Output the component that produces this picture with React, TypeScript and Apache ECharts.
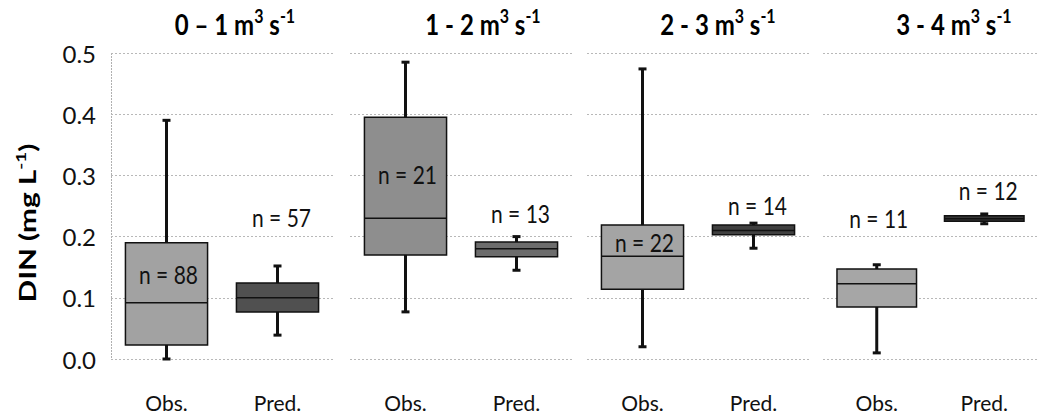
import React, { useEffect, useRef } from 'react';
import * as echarts from 'echarts';

// Flow classes (panel titles) and groups within each panel
const flowClasses = ['0 – 1', '1 - 2', '2 - 3', '3 - 4'];
const groups = ['Obs.', 'Pred.'];
// [low whisker, q1, median, q3, high whisker]  (DIN, mg L-1)
const obsStats = [
  [0.0, 0.023, 0.092, 0.19, 0.39],
  [0.077, 0.17, 0.23, 0.395, 0.485],
  [0.02, 0.114, 0.168, 0.219, 0.474],
  [0.01, 0.085, 0.123, 0.147, 0.154],
];
const predStats = [
  [0.039, 0.077, 0.1, 0.124, 0.152],
  [0.145, 0.167, 0.18, 0.191, 0.2],
  [0.181, 0.203, 0.21, 0.219, 0.222],
  [0.221, 0.225, 0.229, 0.234, 0.237],
];
const obsN = [88, 21, 22, 11];
const predN = [57, 13, 14, 12];
// where the "n = " annotations sit (in DIN units)
const obsNLabelY = [0.137, 0.3, 0.189, 0.229];
const predNLabelY = [0.23, 0.237, 0.25, 0.274];
const yTicks = [0, 0.1, 0.2, 0.3, 0.4, 0.5];

const FONT = 'Lato, "Open Sans", sans-serif';
const obsFill = ['#a2a2a2', '#8e8e8e', '#a4a4a4', '#a6a6a6'];
const predFill = ['#505050', '#6c6c6c', '#404040', '#363636'];
const gridLefts = [111, 350, 587, 823];
const gridWidth = 222;
const gridTop = 53;
const gridHeight = 306;
const titleX = [235, 483, 718, 954];

export default function App() {
  const ref = useRef<HTMLDivElement>(null);
  useEffect(() => {
    if (!ref.current) return;
    const chart = echarts.init(ref.current, null, { renderer: 'svg' });

    const renderItem = (params: any, api: any) => {
      const panel = params.seriesIndex;
      const x = api.value(0);
      const lo = api.coord([x, api.value(1)]);
      const q1 = api.coord([x, api.value(2)]);
      const md = api.coord([x, api.value(3)]);
      const q3 = api.coord([x, api.value(4)]);
      const hi = api.coord([x, api.value(5)]);
      const lab = api.coord([x, api.value(6)]);
      const cx = lo[0];
      const bw = api.size([1, 0])[0] * 0.74;
      const cap = 8;
      const isPred = x === 1;
      const wStyle = { stroke: '#111', lineWidth: 3 };
      return {
        type: 'group',
        children: [
          { type: 'line', shape: { x1: cx, y1: q3[1], x2: cx, y2: hi[1] }, style: wStyle },
          { type: 'line', shape: { x1: cx, y1: q1[1], x2: cx, y2: lo[1] }, style: wStyle },
          { type: 'line', shape: { x1: cx - cap / 2, y1: hi[1], x2: cx + cap / 2, y2: hi[1] }, style: wStyle },
          { type: 'line', shape: { x1: cx - cap / 2, y1: lo[1], x2: cx + cap / 2, y2: lo[1] }, style: wStyle },
          {
            type: 'rect',
            shape: { x: cx - bw / 2, y: q3[1], width: bw, height: q1[1] - q3[1] },
            style: { fill: isPred ? predFill[panel] : obsFill[panel], stroke: '#111', lineWidth: 1.5 },
          },
          { type: 'line', shape: { x1: cx - bw / 2, y1: md[1], x2: cx + bw / 2, y2: md[1] }, style: { stroke: '#111', lineWidth: 1.5 } },
          {
            type: 'text',
            x: cx + (isPred ? 4 : 2),
            y: lab[1],
            scaleY: 1.15,
            style: {
              text: 'n = ' + api.value(7),
              fontSize: 21,
              fontFamily: FONT,
              fontWeight: 'normal',
              fill: '#111',
              align: 'center',
              verticalAlign: 'middle',
            },
          },
        ],
      };
    };

    const grids = gridLefts.map((l) => ({ show: false, left: l, width: gridWidth, top: gridTop, height: gridHeight }));
    const xAxes = gridLefts.map((_, i) => ({
      type: 'category',
      gridIndex: i,
      data: groups,
      axisLine: { show: false },
      axisTick: { show: false },
      axisLabel: { fontSize: 21, color: '#111', fontFamily: FONT, margin: 33 },
      splitLine: { show: false },
      splitArea: { show: false },
    }));
    const yAxes = gridLefts.map((_, i) => ({
      type: 'value',
      gridIndex: i,
      min: yTicks[0],
      max: yTicks[yTicks.length - 1],
      interval: 0.1,
      axisLine: { show: false },
      axisTick: { show: false },
      axisLabel: {
        show: i === 0,
        fontSize: 24,
        color: '#111',
        fontFamily: FONT,
        margin: 15,
        formatter: (v: number) => v.toFixed(1),
      },
      splitLine: { show: true, lineStyle: { color: '#b8b8b8', type: [2, 2], width: 1 } },
      splitArea: { show: false },
    }));
    const series = flowClasses.map((_, i) => ({
      type: 'custom',
      xAxisIndex: i,
      yAxisIndex: i,
      clip: false,
      renderItem,
      encode: { x: 0, y: [1, 2, 3, 4, 5] },
      data: [
        [0, ...obsStats[i], obsNLabelY[i], obsN[i]],
        [1, ...predStats[i], predNLabelY[i], predN[i]],
      ],
    }));

    const titleRich = {
      b: { fontSize: 24, fontWeight: 'bold', fontFamily: FONT, color: '#111', lineHeight: 30 },
      s: { fontSize: 16, fontWeight: 'bold', fontFamily: FONT, color: '#111', verticalAlign: 'top', lineHeight: 16 },
    };
    const titles = flowClasses.map((f, i) => ({
      type: 'text',
      x: titleX[i],
      y: 24,
      scaleY: 1.15,
      style: {
        text: `{b|${f} m}{s|3}{b| s}{s|-1}`,
        rich: titleRich,
        align: 'center',
        verticalAlign: 'middle',
      },
    }));

    chart.setOption({
      animation: false,
      backgroundColor: '#ffffff',
      grid: grids,
      xAxis: xAxes,
      yAxis: yAxes,
      series,
      graphic: [
        ...titles,
        {
          type: 'line',
          shape: { x1: gridLefts[0] + 0.5, y1: gridTop, x2: gridLefts[0] + 0.5, y2: gridTop + gridHeight },
          style: { stroke: '#b0b0b0', lineWidth: 1, lineDash: [2, 1] },
        },
        {
          type: 'text',
          x: 28,
          y: 223,
          rotation: Math.PI / 2,
          scaleX: 1.35,
          style: {
            text: '{b|DIN (mg L}{s|-1}{b|)}',
            rich: {
              b: { fontSize: 22, fontWeight: 'bold', fontFamily: FONT, color: '#111', lineHeight: 28 },
              s: { fontSize: 14, fontWeight: 'bold', fontFamily: FONT, color: '#111', verticalAlign: 'top', lineHeight: 14 },
            },
            align: 'center',
            verticalAlign: 'middle',
          },
        },
      ],
    });
    return () => chart.dispose();
  }, []);
  return (
    <div
      ref={ref}
      style={{ position: 'absolute', left: 0, top: 0, width: 1038, height: 416, background: '#fff' }}
    />
  );
}
